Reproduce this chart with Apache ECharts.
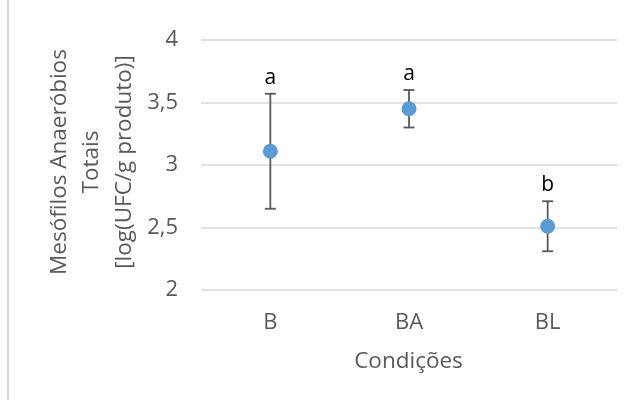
<!DOCTYPE html>
<html>
<head>
<meta charset="utf-8">
<script src="https://cdn.jsdelivr.net/npm/echarts@6/dist/echarts.min.js"></script>
<style>
  html, body { margin: 0; padding: 0; background: #fff; }
  #chart { width: 636px; height: 403px; }
</style>
</head>
<body>
<div id="chart"></div>
<script>
// Condições avaliadas
const categories = ['B', 'BA', 'BL'];
// Médias de mesófilos anaeróbios totais [log(UFC/g produto)]
const means = [3.11, 3.45, 2.51];
// Limites inferior e superior das barras de erro
const lower = [2.65, 3.30, 2.31];
const upper = [3.57, 3.60, 2.71];
// Letras de significância
const letters = ['a', 'a', 'b'];
// Marcas do eixo Y
const yMin = 2, yMax = 4, yStep = 0.5;

const FONT = '"Open Sans", sans-serif';
const TXT = '#595959';

const chart = echarts.init(document.getElementById('chart'), null, { renderer: 'canvas' });

const errData = categories.map((c, i) => [i, lower[i], upper[i], letters[i]]);

chart.setOption({
  animation: false,
  backgroundColor: '#ffffff',
  grid: { left: 201, right: 19, top: 40, bottom: 113 },
  xAxis: {
    type: 'category',
    data: categories,
    boundaryGap: true,
    axisLine: { show: false },
    axisTick: { show: false },
    axisLabel: { color: TXT, fontFamily: FONT, fontSize: 22, margin: 22 }
  },
  yAxis: {
    type: 'value',
    min: yMin, max: yMax, interval: yStep,
    axisLine: { show: false },
    axisTick: { show: false },
    splitLine: { lineStyle: { color: '#d9d9d9', width: 1.5 } },
    axisLabel: {
      color: TXT, fontFamily: FONT, fontSize: 22, margin: 23,
      formatter: v => String(v).replace('.', ',')
    }
  },
  graphic: [
    {
      type: 'line', silent: true,
      shape: { x1: 8, y1: 0, x2: 8, y2: 400 },
      style: { stroke: '#d9d9d9', lineWidth: 2 }
    },
    {
      type: 'text', silent: true,
      x: 92, y: 162, rotation: Math.PI / 2,
      style: {
        text: 'Mesófilos Anaeróbios\nTotais\n[log(UFC/g produto)]',
        fill: TXT, font: '22.5px "Open Sans", sans-serif',
        align: 'center', verticalAlign: 'middle', lineHeight: 32.5
      }
    },
    {
      type: 'text', silent: true,
      x: 408.5, y: 362,
      style: {
        text: 'Condições', fill: TXT, font: '22.5px "Open Sans", sans-serif',
        align: 'center', verticalAlign: 'middle'
      }
    }
  ],
  series: [
    {
      type: 'custom',
      z: 2,
      data: errData,
      renderItem: (params, api) => {
        const x = api.coord([api.value(0), api.value(1)])[0];
        const lo = api.coord([api.value(0), api.value(1)])[1];
        const hi = api.coord([api.value(0), api.value(2)])[1];
        const hw = 5.5;
        const st = { stroke: '#595959', lineWidth: 1.8 };
        return {
          type: 'group',
          children: [
            { type: 'line', shape: { x1: x, y1: lo, x2: x, y2: hi }, style: st },
            { type: 'line', shape: { x1: x - hw, y1: lo, x2: x + hw, y2: lo }, style: st },
            { type: 'line', shape: { x1: x - hw, y1: hi, x2: x + hw, y2: hi }, style: st },
            {
              type: 'text', x: x, y: hi - 16,
              style: {
                text: errData[params.dataIndex][3], fill: '#000000',
                font: '21px "Open Sans", sans-serif', align: 'center', verticalAlign: 'middle'
              }
            }
          ]
        };
      }
    },
    {
      type: 'scatter',
      z: 3,
      data: means,
      symbol: 'circle',
      symbolSize: 15,
      itemStyle: { color: '#5b9bd5', opacity: 1 }
    }
  ]
});
</script>
</body>
</html>
